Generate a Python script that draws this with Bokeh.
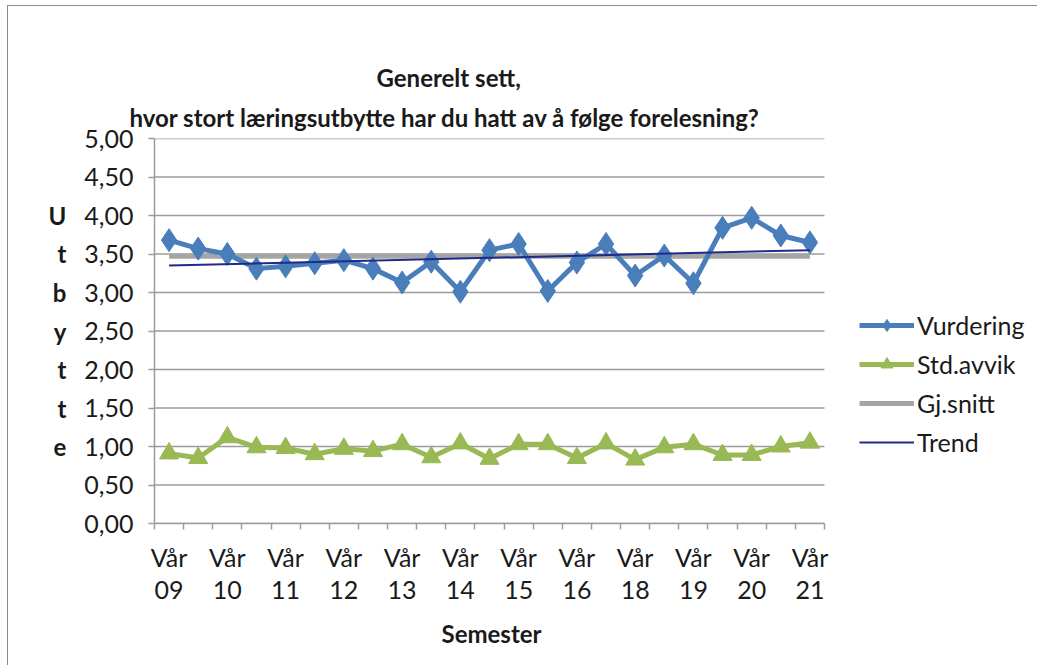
from bokeh.plotting import figure
from bokeh.models import (Range1d, FixedTicker, CustomJSTickFormatter, LinearAxis,
                          Legend, LegendItem, Title, ColumnDataSource)
from bokeh.embed import file_html
from bokeh.resources import INLINE

# ---- data ----
season_labels = ["Vår", "Vår", "Vår", "Vår", "Vår", "Vår", "Vår", "Vår", "Vår", "Vår", "Vår", "Vår"]
year_labels = ["09", "10", "11", "12", "13", "14", "15", "16", "18", "19", "20", "21"]
vurdering = [3.68, 3.57, 3.50, 3.31, 3.34, 3.38, 3.42, 3.31, 3.13, 3.40, 3.01, 3.55,
             3.63, 3.02, 3.39, 3.63, 3.22, 3.48, 3.12, 3.84, 3.97, 3.74, 3.65]
std_avvik = [0.91, 0.85, 1.12, 0.99, 0.98, 0.90, 0.97, 0.94, 1.03, 0.86, 1.04, 0.84,
             1.03, 1.03, 0.85, 1.04, 0.83, 0.99, 1.03, 0.89, 0.89, 1.00, 1.05]
gj_snitt = [3.47, 3.47, 3.47, 3.47, 3.47, 3.47, 3.47, 3.47, 3.47, 3.47, 3.47, 3.47,
            3.47, 3.47, 3.47, 3.47, 3.47, 3.47, 3.47, 3.47, 3.47, 3.47, 3.47]
trend_ends = [3.35, 3.55]  # trend line value at first and last semester
y_ticks = [0, 0.5, 1, 1.5, 2, 2.5, 3, 3.5, 4, 4.5, 5]
y_title = "Utbytte"
x_title = "Semester"
title_lines = ["Generelt sett,", "hvor stort læringsutbytte har du hatt av å følge forelesning?"]

n = len(vurdering)
x = [i + 0.5 for i in range(n)]
FONT = "Lato"
TXT = "#1a1a1a"
GRID = "#9c9c9c"
FS = "25px"

# layout: plotting area 670 px wide for the categories; frame extends right to hold the legend
W, H = 1030, 660
LEFT, TOP, BOTTOM = 146, 132, 143
frame_w = W - LEFT
data_w = 670
x_end = n * frame_w / data_w

src = ColumnDataSource(dict(x=x, v=vurdering, s=std_avvik, g=gj_snitt))
grid_src = ColumnDataSource(dict(y=y_ticks, x0=[0] * len(y_ticks), x1=[n] * len(y_ticks)))

p = figure(width=W, height=H, output_backend="svg", toolbar_location=None,
           x_range=Range1d(0, x_end), y_range=Range1d(0, 5),
           min_border_left=LEFT, min_border_right=0, min_border_top=TOP, min_border_bottom=BOTTOM,
           x_axis_type=None, y_axis_type=None, title=None)
p.outline_line_color = None
p.styles = {"border-left": "1px solid #8a8a8a", "border-top": "1px solid #8a8a8a",
            "margin-left": "7px", "margin-top": "5px"}
p.xgrid.visible = False
p.ygrid.visible = False

# horizontal gridlines over the category area only
p.segment(x0="x0", x1="x1", y0="y", y1="y", source=grid_src, line_color=GRID, line_width=1.5)

# y axis
yax = LinearAxis(ticker=FixedTicker(ticks=y_ticks),
                 formatter=CustomJSTickFormatter(code="return tick.toFixed(2).replace('.', ',');"))
yax.axis_line_color = GRID
yax.axis_line_width = 1.5
yax.major_tick_line_color = GRID
yax.major_tick_line_width = 1.5
yax.major_tick_out = 6
yax.major_tick_in = 0
yax.minor_tick_line_color = None
yax.major_label_text_font = FONT
yax.major_label_text_font_size = FS
yax.major_label_text_color = TXT
yax.major_label_standoff = 15
yax.axis_label = "\n".join(y_title)
yax.axis_label_text_font = FONT
yax.axis_label_text_font_size = "24px"
yax.axis_label_text_font_style = "bold"
yax.axis_label_text_color = TXT
yax.axis_label_standoff = 15
try:
    yax.axis_label_orientation = "horizontal"
except Exception:
    pass
try:
    yax.axis_label_text_line_height = 1.33
except Exception:
    pass
p.add_layout(yax, "left")

# x axis 1: tick marks + season label
label_pos = [i + 0.5 for i in range(0, n, 2)]
bounds = list(range(0, n + 1))
xax1 = LinearAxis(ticker=FixedTicker(ticks=label_pos, minor_ticks=bounds),
                  formatter=CustomJSTickFormatter(args=dict(labels=season_labels),
                                                  code="return labels[Math.round((tick - 0.5) / 2)] || '';"))
xax1.bounds = (0, n)
xax1.axis_line_color = GRID
xax1.axis_line_width = 1.5
xax1.major_tick_line_color = None
xax1.major_tick_out = 0
xax1.major_tick_in = 0
xax1.minor_tick_line_color = GRID
xax1.minor_tick_line_width = 1.5
xax1.minor_tick_out = 6
xax1.minor_tick_in = 0
xax1.major_label_text_font = FONT
xax1.major_label_text_font_size = FS
xax1.major_label_text_color = TXT
xax1.major_label_standoff = 12
p.add_layout(xax1, "below")

# x axis 2: years
xax2 = LinearAxis(ticker=FixedTicker(ticks=label_pos),
                  formatter=CustomJSTickFormatter(args=dict(labels=year_labels),
                                                  code="return labels[Math.round((tick - 0.5) / 2)] || '';"))
xax2.bounds = (0, n)
xax2.axis_line_color = None
xax2.major_tick_line_color = None
xax2.minor_tick_line_color = None
xax2.major_label_text_font = FONT
xax2.major_label_text_font_size = FS
xax2.major_label_text_color = TXT
xax2.major_label_standoff = 0
p.add_layout(xax2, "below")

# x-axis title, centred under the category area
p.add_layout(Title(text=x_title, text_font=FONT, text_font_size="24px",
                   text_font_style="bold", text_color=TXT, align="left", offset=287,
                   standoff=30), "below")

# series
gl = p.line([x[0], x[-1]], [gj_snitt[0], gj_snitt[-1]], line_color="#a5a5a5", line_width=5)
v_line = p.line("x", "v", source=src, line_color="#4a7ebb", line_width=5)
v_pts = p.scatter("x", "v", source=src, marker="diamond", size=23, fill_color="#4a7ebb",
                  line_color="#4a7ebb")
s_line = p.line("x", "s", source=src, line_color="#98b954", line_width=5)
s_pts = p.scatter("x", "s", source=src, marker="triangle", size=19, fill_color="#98b954",
                  line_color="#98b954")
tl = p.line([x[0], x[-1]], trend_ends, line_color="#1f2a8a", line_width=2)

legend = Legend(items=[
    LegendItem(label="Vurdering", renderers=[v_line, v_pts]),
    LegendItem(label="Std.avvik", renderers=[s_line, s_pts]),
    LegendItem(label="Gj.snitt", renderers=[gl]),
    LegendItem(label="Trend", renderers=[tl]),
], location=(705, 66))
legend.border_line_color = None
legend.background_fill_alpha = 0
legend.padding = 0
legend.margin = 0
legend.glyph_width = 55
legend.glyph_height = 30
legend.label_height = 30
legend.spacing = 9
legend.label_standoff = 3
legend.label_text_font = FONT
legend.label_text_font_size = FS
legend.label_text_color = TXT
p.add_layout(legend, "center")

# title (two lines); first added sits closest to the plot
p.add_layout(Title(text=title_lines[1], text_font=FONT, text_font_size="24px",
                   text_font_style="bold", text_color=TXT, align="left", offset=-25,
                   standoff=14), "above")
p.add_layout(Title(text=title_lines[0], text_font=FONT, text_font_size="24px",
                   text_font_style="bold", text_color=TXT, align="left", offset=222,
                   standoff=0, vertical_align="top"), "above")

open("out.html", "w").write(file_html(p, INLINE))
